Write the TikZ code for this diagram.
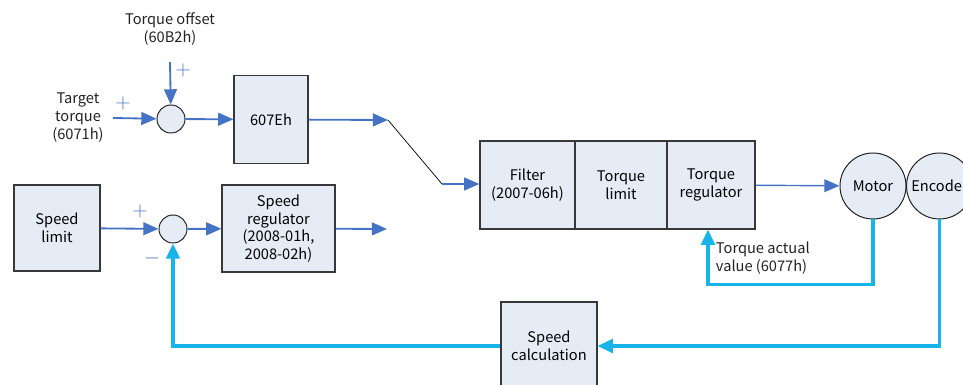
\documentclass[tikz,border=0pt]{standalone}
\usepackage{fontspec}
\setmainfont{Noto Sans CJK SC}
\usetikzlibrary{arrows.meta,calc,positioning}
\definecolor{ink}{HTML}{222222}
\definecolor{boxFill}{HTML}{E6ECF6}
\definecolor{flow}{HTML}{4472C4}
\definecolor{fback}{HTML}{17B4E9}
\tikzset{
    block/.style={draw=ink!90, fill=boxFill, line width=0.8pt, align=center,
                  inner sep=1pt, font=\fontsize{10.4}{12.6}\selectfont},
    sumnode/.style={circle, draw=ink, fill=boxFill, line width=0.7pt,
                    minimum size=7mm, inner sep=0pt},
    unit/.style={circle, draw=ink, fill=boxFill, line width=0.7pt,
                 minimum size=16.5mm, inner sep=0pt,
                 font=\fontsize{10.4}{12.6}\selectfont},
    forward/.style={flow, line width=1.3pt, -{Triangle[length=3.8mm,width=3.2mm]}},
    feedback/.style={fback, line width=2.2pt, -{Triangle[length=3.8mm,width=3.4mm]}},
    switch/.style={black, line width=0.5pt},
    sign/.style={text=flow, font=\Large, inner sep=0pt},
    label text/.style={font=\fontsize{10.4}{12.8}\selectfont, text=ink, align=center},
}

\begin{document}
\begin{tikzpicture}[x=0.025cm, y=-0.025cm]
\useasboundingbox (0,0) rectangle (963,385);
\clip (0,0) rectangle (963,385);

% ---------------------------------------------------------------------------
% Torque reference path
% ---------------------------------------------------------------------------
\node[label text] (offset) at (170,29) {Torque offset\\(60B2h)};
\node[label text] (target) at (78,118) {Target\\torque\\(6071h)};
\coordinate (offsetIn) at (170,62);
\coordinate (targetIn) at (113,118);

\node[sumnode] (sumT) at (171,119) {};
\node[block, minimum width=1.85cm, minimum height=2.18cm] (tqOff) at (271,119.5) {607Eh};

\node[sign] (plusA) at (183,70) {$+$};
\node[sign] (plusB) at (123,103) {$+$};

\draw[forward] (offsetIn) -- (sumT);
\draw[forward] (targetIn) -- (sumT);
\draw[forward] (sumT) -- (tqOff);

\coordinate (swIn) at (388,120);
\coordinate (swOut) at (442,184);
\draw[forward] (tqOff) -- (swIn);
\draw[switch] (swIn) -- (swOut);

% ---------------------------------------------------------------------------
% Speed limit path
% ---------------------------------------------------------------------------
\node[block, minimum width=2.15cm, minimum height=2.15cm] (spdLim) at (57,228) {Speed\\limit};
\node[sumnode] (sumS) at (173,229) {};
\node[block, minimum width=2.825cm, minimum height=2.175cm] (spdReg) at (278.5,228.5)
    {Speed\\regulator\\(2008-01h,\\2008-02h)};
\coordinate (spdOut) at (387,229);

\node[sign] (plusC) at (140,211) {$+$};
\node[sign] (minusC) at (152,258) {$-$};

\draw[forward] (spdLim) -- (sumS);
\draw[forward] (sumS) -- (spdReg);
\draw[forward] (spdReg) -- (spdOut);

% ---------------------------------------------------------------------------
% Torque loop
% ---------------------------------------------------------------------------
\node[block, minimum width=2.375cm, minimum height=2.2cm] (filter) at (527.5,185) {Filter\\(2007-06h)};
\node[block, minimum width=2.3cm, minimum height=2.2cm] (tLim) at (621,185) {Torque\\limit};
\node[block, minimum width=2.2cm, minimum height=2.2cm] (tReg) at (711,185) {Torque\\regulator};

\node[unit] (motor) at (873,186) {Motor};
\node[unit] (enc) at (939.5,186) {Encoder};

\draw[forward] (swOut) -- (filter.west |- swOut);
\draw[forward, line width=1pt] (tReg) -- (motor);

\draw[feedback] (motor.south) -- ++(0,65) -| ($(tReg.south)+(-3,0)$);
\node[label text, anchor=north west, align=left] (tAct) at (711,237)
    {Torque actual\\value (6077h)};

% ---------------------------------------------------------------------------
% Speed feedback
% ---------------------------------------------------------------------------
\node[block, minimum width=2.4cm, minimum height=2.2cm] (spdCalc) at (549,346) {Speed\\calculation};
\draw[feedback] (enc.south) |- (spdCalc.east);
\draw[feedback] (spdCalc.west) -| (sumS.south);

\end{tikzpicture}
\end{document}
